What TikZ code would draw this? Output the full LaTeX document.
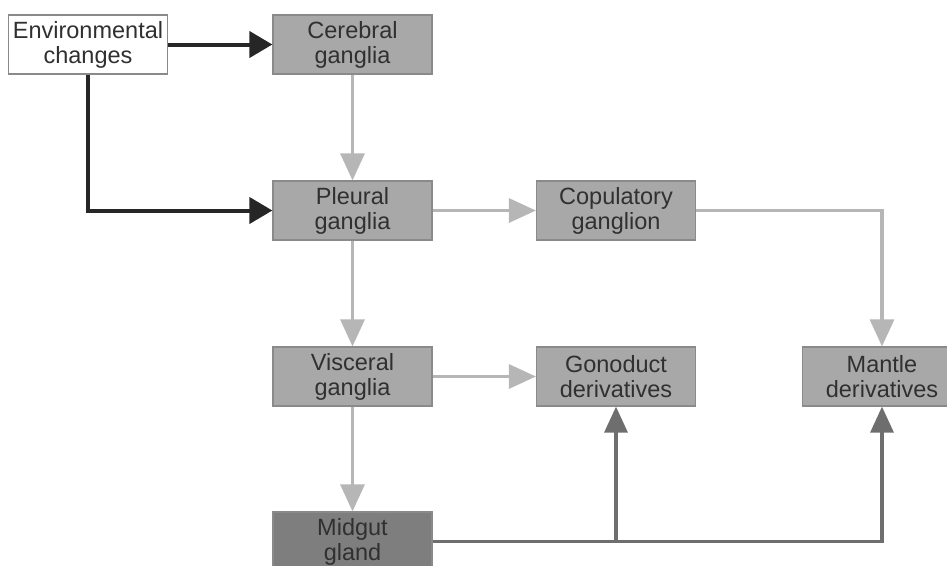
\documentclass[tikz,border=0pt]{standalone}
\usepackage{fontspec}
\setmainfont{Liberation Sans}
\usetikzlibrary{arrows.meta}
\definecolor{boxgray}{HTML}{A8A8A8}
\definecolor{boxline}{HTML}{8A8A8A}
\definecolor{glandgray}{HTML}{7E7E7E}
\definecolor{lightarrow}{HTML}{B6B6B6}
\definecolor{darkarrow}{HTML}{6E6E6E}
\definecolor{textgray}{HTML}{303030}

\begin{document}
\begin{tikzpicture}[x=1pt,y=-1pt]
\useasboundingbox (0,0) rectangle (947,565);
\tikzstyle{every node}=[rectangle, draw=boxline, line width=1.2pt, minimum width=159pt, minimum height=59pt, align=center, text=textgray, font=\fontsize{23.5}{25}\selectfont, inner sep=0pt]
\tikzstyle{organ}=[fill=boxgray]
\tikzstyle{gland}=[fill=glandgray]
\tikzstyle{stimulus}=[line width=4pt, black!85, -{Triangle[length=23pt,width=26pt]}]
\tikzstyle{nerve}=[line width=3.2pt, lightarrow, -{Triangle[length=27pt,width=24pt]}]
\tikzstyle{secretion}=[line width=3.2pt, darkarrow, -{Triangle[length=26pt,width=23pt]}]
\draw node[fill=white] (env) at (88,44.5) {Environmental\\changes};
\draw node[organ] (cereb) at (352.5,44.5) {Cerebral\\ganglia};
\draw node[organ] (pleur) at (352.5,210.5) {Pleural\\ganglia};
\draw node[organ] (copul) at (616,210.5) {Copulatory\\ganglion};
\draw node[organ] (visc) at (352.5,376.5) {Visceral\\ganglia};
\draw node[organ] (gonod) at (616,376.5) {Gonoduct\\derivatives};
\draw node[organ] (mantle) at (882,376.5) {Mantle\\derivatives};
\draw node[gland] (midgut) at (352.5,541.5) {Midgut\\gland};
\coordinate (split) at (gonod.south |- midgut.east);
\draw[stimulus] (env) to (cereb);
\draw[stimulus] (env.south) |- (pleur.west);
\draw[nerve] (cereb) to (pleur);
\draw[nerve] (pleur) to (copul);
\draw[nerve] (copul.east) -| (mantle.north);
\draw[nerve] (pleur) to (visc);
\draw[nerve] (visc) to (gonod);
\draw[nerve] (visc) to (midgut);
\draw[secretion] (midgut.east) -| (mantle.south);
\draw[secretion] (split) to (gonod.south);
\end{tikzpicture}
\end{document}
